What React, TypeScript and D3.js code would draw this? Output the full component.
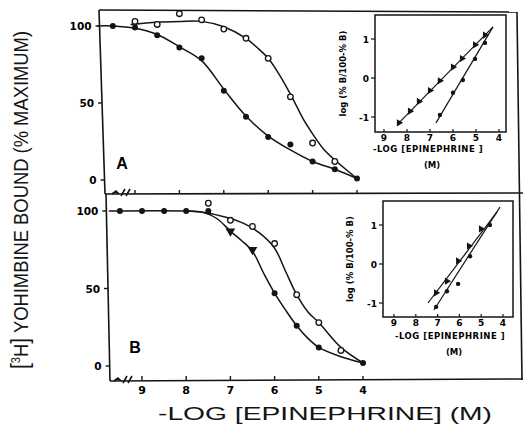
import React from "react";
import * as d3 from "d3";

const INK = "#141414";

// panel A (top): filled and open symbols, plus the smooth fitted curves
const aFilledX = [9.5, 9, 8.5, 8, 7.5, 7, 6.5, 6, 5.5, 5, 4.5, 4];
const aFilledY = [100, 99, 94, 86, 79, 58, 41, 28, 23, 12, 7, 1];
const aOpenX = [9, 8.5, 8, 7.5, 7, 6.5, 6, 5.5, 5, 4.5];
const aOpenY = [103, 101, 108, 104, 98, 92, 79, 54, 24, 12];
const aFitFilledX = [9.85, 9.5, 9, 8.5, 8, 7.5, 7, 6.5, 6, 5.5, 5, 4.5, 4];
const aFitFilledY = [100, 100, 98.5, 94.5, 86.5, 77.5, 59, 41.5, 28.5, 19.5, 12, 7, 1];
const aFitOpenX = [9.1, 8.5, 8, 7.5, 7, 6.5, 6.25, 6, 5.7, 5.45, 5.2, 5, 4.75, 4.5, 4];
const aFitOpenY = [101, 102.5, 103, 103, 99.5, 92, 86, 79, 66, 53, 39, 30, 20, 13, 1];

// panel B (bottom)
const bFilledX = [9.5, 9, 8.5, 8, 7.5, 6, 5.5, 5, 4];
const bFilledY = [100, 100, 100, 100, 100, 47, 26, 12, 2];
const bTriangleX = [7, 6.5];
const bTriangleY = [87, 75];
const bOpenX = [7.5, 7, 6.5, 6, 5.5, 5, 4.5];
const bOpenY = [105, 94, 90, 79, 46, 28, 10];
const bFitFilledX = [9.75, 8, 7.6, 7.3, 7, 6.75, 6.5, 6.25, 6, 5.75, 5.5, 5.25, 5, 4.5, 4];
const bFitFilledY = [100, 100, 99, 95, 87, 81, 74, 60, 47, 36, 26, 18, 12, 6, 2];
const bFitOpenX = [8, 7.7, 7.1, 6.7, 6.35, 6, 5.75, 5.5, 5.25, 5, 4.5, 4];
const bFitOpenY = [100, 99.5, 96, 92, 86, 76, 61, 46, 35, 28, 12, 2];

// insets: log(%B/(100-%B)) vs -log[epinephrine]
const insATriX = [8.35, 7.87, 7.48, 7.0, 6.57, 6.0, 5.61, 5.04, 4.61];
const insATriY = [-1.15, -0.85, -0.6, -0.32, -0.07, 0.28, 0.5, 0.85, 1.1];
const insADotX = [6.57, 6.0, 5.57, 5.04, 4.61];
const insADotY = [-0.95, -0.38, -0.05, 0.49, 0.9];
const insAFit1X = [8.35, 4.26];
const insAFit1Y = [-1.15, 1.31];
const insAFit2X = [6.74, 4.26];
const insAFit2Y = [-1.15, 1.31];

const insBTriX = [7.07, 6.57, 6.06, 5.56, 5.01];
const insBTriY = [-0.74, -0.44, 0.08, 0.46, 0.9];
const insBDotX = [7.07, 6.57, 6.06, 5.51, 4.6];
const insBDotY = [-1.1, -0.7, -0.51, 0.2, 1.0];
const insBFit1X = [7.44, 4.28];
const insBFit1Y = [-1.0, 1.33];
const insBFit2X = [7.17, 4.14];
const insBFit2Y = [-1.18, 1.46];

const mainTicks = [9, 8, 7, 6, 5, 4];
const yTicks = [0, 50, 100];
const insetXTicks = [9, 8, 7, 6, 5, 4];
const insetYTicks = [-1, 0, 1];

const zip = (xs: number[], ys: number[]) => xs.map((x, i) => [x, ys[i]] as [number, number]);

type Scale = d3.ScaleLinear<number, number>;

const fitPath = (xs: number[], ys: number[], x: Scale, y: Scale, smooth = true) =>
  d3
    .line<[number, number]>()
    .x((d) => x(d[0]))
    .y((d) => y(d[1]))
    .curve(smooth ? d3.curveCatmullRom.alpha(0.5) : d3.curveLinear)(zip(xs, ys)) || "";

const tri = d3.symbol().type(d3.symbolTriangle);

const Inset = ({ box, x, y, fits, tris, dots, yLabelX, titleX, titleY }: any) => {
  return (
    <g>
      <rect x={box[0]} y={box[1]} width={box[2] - box[0]} height={box[3] - box[1]} fill="none" stroke={INK} strokeWidth={1.5} />
      {fits.map((f: any, i: number) => (
        <path key={i} d={fitPath(f[0], f[1], x, y, false)} fill="none" stroke={INK} strokeWidth={1.2} />
      ))}
      {zip(tris[0], tris[1]).map((d, i) => (
        <path key={"t" + i} d={tri.size(22)() || ""} transform={`translate(${x(d[0])},${y(d[1])}) rotate(-30)`} fill={INK} />
      ))}
      {zip(dots[0], dots[1]).map((d, i) => (
        <circle key={"d" + i} cx={x(d[0])} cy={y(d[1])} r={2.2} fill={INK} />
      ))}
      {insetXTicks.map((t) => (
        <g key={t}>
          <line x1={x(t)} x2={x(t)} y1={box[3]} y2={box[3] - 3} stroke={INK} strokeWidth={1.2} />
          <text x={x(t)} y={box[3] + 9} textAnchor="middle" fontSize={9} fontWeight="bold" fontFamily="DejaVu Sans">
            {t}
          </text>
        </g>
      ))}
      {insetYTicks.map((t) => (
        <g key={t}>
          <line x1={box[0] - 4} x2={box[0]} y1={y(t)} y2={y(t)} stroke={INK} strokeWidth={1.2} />
          <text x={box[0] - 6} y={y(t) + 3.5} textAnchor="end" fontSize={9} fontWeight="bold" fontFamily="DejaVu Sans">
            {t === -1 ? "-1" : t}
          </text>
        </g>
      ))}
      <text
        transform={`translate(${yLabelX},${(box[1] + box[3]) / 2}) rotate(-90)`}
        textAnchor="middle"
        fontSize={8.5}
        fontWeight="bold"
        fontFamily="DejaVu Sans"
      >
        log (% B/100-% B)
      </text>
      <text x={titleX} y={titleY} textAnchor="middle" fontSize={8.5} fontWeight="bold" fontFamily="DejaVu Sans" letterSpacing={0.5}>
        -LOG [EPINEPHRINE ]
      </text>
      <text x={titleX + 4} y={titleY + 16} textAnchor="middle" fontSize={8.5} fontWeight="bold" fontFamily="DejaVu Sans">
        (M)
      </text>
    </g>
  );
};

export default function App() {
  const xA = d3.scaleLinear().domain([9, 4]).range([135, 357]);
  const yA = d3.scaleLinear().domain([0, 100]).range([180, 26]);
  const xB = d3.scaleLinear().domain([9, 4]).range([142, 363]);
  const yB = d3.scaleLinear().domain([0, 100]).range([366, 211]);

  const insAx = d3.scaleLinear().domain([9, 4]).range([384, 499]);
  const insAy = d3.scaleLinear().domain([-1, 1]).range([117, 39]);
  const insBx = d3.scaleLinear().domain([9, 4]).range([394, 503]);
  const insBy = d3.scaleLinear().domain([-1, 1]).range([303, 225]);

  // the scanned axes lean a little; left axis x at a given y
  const axisA = (py: number) => 99 + ((py - 10) * 6) / 184;
  const axisB = (py: number) => 106 + ((py - 194) * 4) / 187;

  return (
    <svg width={525} height={429} style={{ position: "absolute", left: 0, top: 0, background: "#fff" }}>
      {/* frame */}
      <g stroke={INK} strokeWidth={1.6} fill="none">
        <line x1={99} y1={10} x2={517} y2={12} />
        <line x1={517} y1={12} x2={522} y2={380} />
        <line x1={99} y1={10} x2={105} y2={194} />
        <line x1={106} y1={194} x2={110} y2={381} />
        <line x1={105} y1={194} x2={523} y2={193} />
        <line x1={110} y1={381} x2={523} y2={379} />
        {/* axis breaks */}
        <path d="M112,194 l4,-3 l3,3 M121,196 l4,-7 M126,196 l4,-7" />
        <path d="M114,381 l4,-3 l3,3 M123,383 l4,-7 M128,383 l4,-7" />
      </g>

      {/* ticks */}
      {mainTicks.map((t) => (
        <g key={t} stroke={INK} strokeWidth={1.4}>
          <line x1={xA(t)} x2={xA(t)} y1={194} y2={190} />
          <line x1={xB(t)} x2={xB(t)} y1={380} y2={376} />
        </g>
      ))}
      {mainTicks.map((t) => (
        <text key={t} x={xB(t)} y={394} textAnchor="middle" fontSize={11} fontWeight="bold" fontFamily="DejaVu Sans">
          {t}
        </text>
      ))}
      {yTicks.map((t) => (
        <g key={t}>
          <line x1={axisA(yA(t)) - 4} x2={axisA(yA(t))} y1={yA(t)} y2={yA(t)} stroke={INK} strokeWidth={1.4} />
          <text x={axisA(yA(t)) - 8} y={yA(t) + 4} textAnchor="end" fontSize={10.5} fontWeight="bold" fontFamily="DejaVu Sans">
            {t}
          </text>
          <line x1={axisB(yB(t)) - 4} x2={axisB(yB(t))} y1={yB(t)} y2={yB(t)} stroke={INK} strokeWidth={1.4} />
          <text x={axisB(yB(t)) - 8} y={yB(t) + 4} textAnchor="end" fontSize={10.5} fontWeight="bold" fontFamily="DejaVu Sans">
            {t}
          </text>
        </g>
      ))}

      {/* panel A */}
      <path d={fitPath(aFitFilledX, aFitFilledY, xA, yA)} fill="none" stroke={INK} strokeWidth={1.5} />
      <path d={fitPath(aFitOpenX, aFitOpenY, xA, yA)} fill="none" stroke={INK} strokeWidth={1.5} />
      {zip(aFilledX, aFilledY).map((d, i) => (
        <circle key={i} cx={xA(d[0])} cy={yA(d[1])} r={3} fill={INK} />
      ))}
      {zip(aOpenX, aOpenY).map((d, i) => (
        <circle key={i} cx={xA(d[0])} cy={yA(d[1])} r={2.8} fill="#fff" stroke={INK} strokeWidth={1.3} />
      ))}
      <text x={122} y={169} textAnchor="middle" fontSize={16} fontWeight="bold" fontFamily="Liberation Sans">
        A
      </text>

      {/* panel B */}
      <path d={fitPath(bFitFilledX, bFitFilledY, xB, yB)} fill="none" stroke={INK} strokeWidth={1.5} />
      <path d={fitPath(bFitOpenX, bFitOpenY, xB, yB)} fill="none" stroke={INK} strokeWidth={1.5} />
      {zip(bFilledX, bFilledY).map((d, i) => (
        <circle key={i} cx={xB(d[0])} cy={yB(d[1])} r={3} fill={INK} />
      ))}
      {zip(bTriangleX, bTriangleY).map((d, i) => (
        <path key={i} d={tri.size(40)() || ""} transform={`translate(${xB(d[0])},${yB(d[1])}) rotate(180)`} fill={INK} />
      ))}
      {zip(bOpenX, bOpenY).map((d, i) => (
        <circle key={i} cx={xB(d[0])} cy={yB(d[1])} r={2.8} fill="#fff" stroke={INK} strokeWidth={1.3} />
      ))}
      <text x={135} y={353} textAnchor="middle" fontSize={16} fontWeight="bold" fontFamily="Liberation Sans">
        B
      </text>

      {/* insets */}
      <Inset
        box={[375, 15, 506, 132]}
        x={insAx}
        y={insAy}
        fits={[
          [insAFit1X, insAFit1Y],
          [insAFit2X, insAFit2Y],
        ]}
        tris={[insATriX, insATriY]}
        dots={[insADotX, insADotY]}
        yLabelX={346}
        titleX={428}
        titleY={152}
      />
      <Inset
        box={[383, 201, 513, 317]}
        x={insBx}
        y={insBy}
        fits={[
          [insBFit1X, insBFit1Y],
          [insBFit2X, insBFit2Y],
        ]}
        tris={[insBTriX, insBTriY]}
        dots={[insBDotX, insBDotY]}
        yLabelX={353}
        titleX={450}
        titleY={339}
      />

      {/* axis titles */}
      <text
        transform="translate(28,200) rotate(-90)"
        textAnchor="middle"
        fontSize={20}
        fontFamily="Liberation Sans"
        fill={INK}
        textLength={338}
        lengthAdjust="spacingAndGlyphs"
      >
        <tspan fontSize={23}>[</tspan>
        <tspan fontSize={12} dy={-8}>3</tspan>
        <tspan dy={8}>H</tspan>
        <tspan fontSize={23}>]</tspan>
        <tspan> YOHIMBINE BOUND (% MAXIMUM)</tspan>
      </text>
      <text x={325} y={420} textAnchor="middle" fontSize={19} fontFamily="Liberation Sans" fill={INK} textLength={334} lengthAdjust="spacingAndGlyphs">
        -LOG [EPINEPHRINE] (M)
      </text>
    </svg>
  );
}
